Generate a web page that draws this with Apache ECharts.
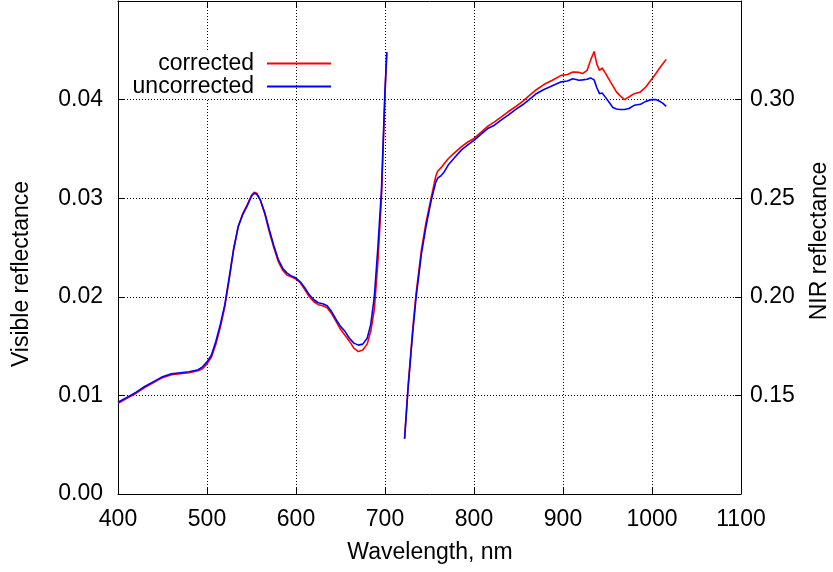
<!DOCTYPE html>
<html>
<head>
<meta charset="utf-8">
<title>Reflectance spectrum</title>
<script src="https://cdn.jsdelivr.net/npm/echarts@6/dist/echarts.min.js"></script>
<style>
  html, body { margin: 0; padding: 0; background: #fff; }
  #chart { width: 833px; height: 572px; }
</style>
</head>
<body>
<div id="chart"></div>
<script>
// Visible band (left axis)
const visWavelength = [400, 410, 420, 430, 440, 450, 460, 470, 480, 490, 495, 500, 505, 510, 515, 520, 525, 530, 535, 540, 545, 550, 553, 556, 560, 565, 570, 575, 580, 585, 590, 595, 600, 605, 610, 615, 620, 625, 630, 635, 640, 645, 650, 655, 660, 665, 670, 675, 680, 684, 688, 692, 696, 700, 702];
const visUncorrected = [0.0093, 0.0098, 0.0103, 0.0109, 0.0114, 0.0119, 0.0122, 0.0123, 0.0124, 0.0126, 0.0129, 0.0134, 0.0141, 0.0155, 0.0172, 0.0192, 0.0220, 0.0249, 0.0271, 0.0283, 0.0292, 0.0302, 0.0305, 0.0304, 0.0298, 0.0285, 0.0268, 0.0252, 0.0238, 0.0229, 0.0224, 0.0221, 0.0219, 0.0215, 0.0209, 0.0202, 0.0197, 0.0194, 0.0193, 0.0191, 0.0185, 0.0177, 0.0170, 0.0165, 0.0158, 0.0153, 0.0151, 0.0152, 0.0158, 0.0172, 0.0200, 0.0250, 0.0308, 0.0410, 0.0448];
const visCorrected = [0.0092, 0.0097, 0.0102, 0.0108, 0.0113, 0.0118, 0.0121, 0.0122, 0.0123, 0.0125, 0.0127, 0.0132, 0.0139, 0.0152, 0.0169, 0.0190, 0.0218, 0.0248, 0.0271, 0.0284, 0.0293, 0.0303, 0.0306, 0.0305, 0.0298, 0.0284, 0.0266, 0.0250, 0.0236, 0.0227, 0.0222, 0.0220, 0.0218, 0.0214, 0.0207, 0.0200, 0.0195, 0.0192, 0.0191, 0.0189, 0.0183, 0.0175, 0.0167, 0.0161, 0.0155, 0.0148, 0.01445, 0.0146, 0.0152, 0.0165, 0.0187, 0.0235, 0.0300, 0.0405, 0.0448];

// Near-infrared band (right axis)
const nirWavelength = [722, 726, 731, 735, 741, 746, 752, 757, 759, 763, 766, 771, 778, 786, 793, 800, 808, 816, 823, 830, 838, 847, 855, 862, 870, 878, 888, 898, 905, 911, 918, 922, 927, 931, 935, 938, 941, 944, 948, 952, 956, 960, 964, 969, 974, 980, 987, 993, 1000, 1004, 1008, 1012, 1016];
const nirUncorrected = [0.128, 0.154, 0.181, 0.200, 0.222, 0.2355, 0.249, 0.258, 0.260, 0.2615, 0.263, 0.2668, 0.2705, 0.2745, 0.277, 0.2793, 0.2825, 0.2855, 0.287, 0.2895, 0.292, 0.295, 0.2975, 0.300, 0.303, 0.305, 0.307, 0.309, 0.3094, 0.3106, 0.3098, 0.310, 0.3103, 0.311, 0.310, 0.306, 0.303, 0.3033, 0.301, 0.2985, 0.296, 0.2952, 0.295, 0.295, 0.2955, 0.2971, 0.2976, 0.2991, 0.300, 0.300, 0.2993, 0.2982, 0.2966];
const nirCorrected = [0.128, 0.155, 0.183, 0.202, 0.224, 0.2375, 0.2505, 0.261, 0.2635, 0.2655, 0.2672, 0.270, 0.273, 0.2762, 0.2785, 0.2803, 0.2835, 0.2867, 0.2887, 0.291, 0.2937, 0.2965, 0.2992, 0.302, 0.305, 0.3075, 0.3098, 0.3123, 0.3127, 0.314, 0.3138, 0.3132, 0.3148, 0.320, 0.3244, 0.318, 0.3148, 0.316, 0.3132, 0.310, 0.307, 0.3039, 0.302, 0.300, 0.3013, 0.303, 0.3039, 0.3064, 0.3106, 0.313, 0.3157, 0.318, 0.3204];

// Axis ticks
const xTicks = { min: 400, max: 1100, step: 100 };
const leftTicks = { min: 0, max: 0.05, step: 0.01 };
const rightTicks = { min: 0.10, max: 0.35, step: 0.05 };

const seriesNames = ['corrected', 'uncorrected'];
const seriesColors = ['#ff0000', '#0000ff'];

const FONT = 'Liberation Sans, Arial, Helvetica, sans-serif';
const FS = 23;
const INK = '#000000';

const pairs = (xs, ys) => xs.map((x, i) => [x, ys[i]]);

const gridLine = { show: true, lineStyle: { color: '#000', type: [1, 2], width: 1 } };
const frameLine = { show: true, lineStyle: { color: '#000', width: 1 } };
const innerTick = { show: true, inside: true, length: 6, lineStyle: { color: '#000' } };
const labelStyle = { color: INK, fontFamily: FONT, fontSize: FS };

function lineSeries(name, color, yAxisIndex, data) {
  return {
    name, type: 'line', xAxisIndex: 0, yAxisIndex, data,
    showSymbol: false, symbol: 'none', smooth: false, animation: false,
    lineStyle: { color, width: 1.6 }, itemStyle: { color }
  };
}

// Key entries: text on the left, line sample on the right, text box opaque
function legendAt(name, top) {
  return {
    data: [name], right: 497, top, orient: 'vertical', align: 'right',
    icon: 'rect', itemWidth: 64, itemHeight: 2, itemGap: 0, padding: 5,
    selectedMode: false,
    textStyle: {
      color: INK, fontFamily: FONT, fontSize: FS,
      backgroundColor: '#ffffff', padding: [1, 8, 1, 4]
    }
  };
}

const chart = echarts.init(document.getElementById('chart'), null, { renderer: 'canvas' });

chart.setOption({
  backgroundColor: '#ffffff',
  animation: false,
  grid: { left: 118, top: 1, width: 623, height: 493, containLabel: false },
  legend: [legendAt(seriesNames[0], 46), legendAt(seriesNames[1], 69)],
  xAxis: [
    {
      type: 'value', position: 'bottom', min: xTicks.min, max: xTicks.max, interval: xTicks.step,
      axisLine: frameLine, axisTick: innerTick, splitLine: gridLine,
      axisLabel: Object.assign({ margin: 14, formatter: v => String(v) }, labelStyle)
    },
    {
      type: 'value', position: 'top', min: xTicks.min, max: xTicks.max, interval: xTicks.step,
      axisLine: frameLine, axisTick: innerTick, splitLine: { show: false },
      axisLabel: { show: false }
    }
  ],
  yAxis: [
    {
      type: 'value', position: 'left', min: leftTicks.min, max: leftTicks.max, interval: leftTicks.step,
      axisLine: frameLine, axisTick: innerTick, splitLine: gridLine,
      axisLabel: Object.assign({ margin: 15, showMaxLabel: false, formatter: v => v.toFixed(2) }, labelStyle)
    },
    {
      type: 'value', position: 'right', min: rightTicks.min, max: rightTicks.max, interval: rightTicks.step,
      axisLine: frameLine, axisTick: innerTick, splitLine: { show: false },
      axisLabel: Object.assign({ margin: 9, showMinLabel: false, showMaxLabel: false, formatter: v => v.toFixed(2) }, labelStyle)
    }
  ],
  series: [
    lineSeries(seriesNames[0], seriesColors[0], 0, pairs(visWavelength, visCorrected)),
    lineSeries(seriesNames[0], seriesColors[0], 1, pairs(nirWavelength, nirCorrected)),
    lineSeries(seriesNames[1], seriesColors[1], 0, pairs(visWavelength, visUncorrected)),
    lineSeries(seriesNames[1], seriesColors[1], 1, pairs(nirWavelength, nirUncorrected))
  ],
  graphic: [
    {
      type: 'text', x: 430, y: 553,
      style: { text: 'Wavelength, nm', fill: INK, font: FS + 'px ' + FONT, align: 'center', verticalAlign: 'middle' }
    },
    {
      type: 'text', x: 22, y: 274, rotation: Math.PI / 2,
      style: { text: 'Visible reflectance', fill: INK, font: FS + 'px ' + FONT, align: 'center', verticalAlign: 'middle' }
    },
    {
      type: 'text', x: 820, y: 241, rotation: Math.PI / 2,
      style: { text: 'NIR reflectance', fill: INK, font: FS + 'px ' + FONT, align: 'center', verticalAlign: 'middle' }
    }
  ]
});
</script>
</body>
</html>
